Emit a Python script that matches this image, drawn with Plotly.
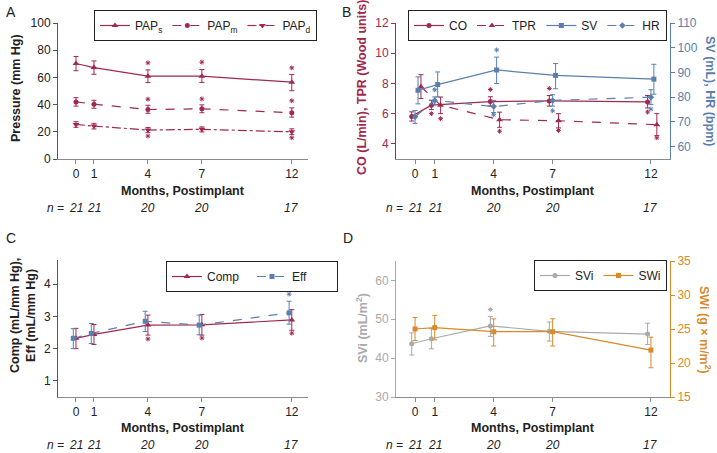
import plotly.graph_objects as go

W, H = 717, 453

# ---------------- data ----------------
months = [0, 1, 4, 7, 12]
n_labels = ["21", "21", "20", "20", "17"]

# Panel A (mm Hg)
paps = [70.2, 67.2, 60.9, 60.9, 56.5]
paps_hi = [75.4, 72.1, 65.5, 65.8, 62.2]
paps_lo = [64.9, 62.3, 56.2, 56.3, 50.2]
papm = [42.0, 40.3, 36.4, 36.9, 34.0]
papm_hi = [45.1, 43.2, 39.5, 39.8, 37.6]
papm_lo = [38.9, 37.3, 33.6, 34.0, 30.8]
papd = [25.4, 24.2, 21.3, 21.8, 20.0]
papd_hi = [27.4, 26.2, 23.2, 23.6, 22.2]
papd_lo = [23.3, 22.1, 19.4, 19.9, 17.9]
star_paps_x, star_paps_y = [4, 7, 12], [70.7, 71.2, 67.0]
star_papm_x, star_papm_y = [4, 7, 12], [44.0, 44.2, 42.8]
star_papd_x, star_papd_y = [4, 12], [16.9, 15.6]

# Panel B
co = [5.82, 6.56, 6.80, 6.84, 6.78]
co_hi = [6.12, 6.89, 7.12, 7.20, 7.20]
co_lo = [5.51, 6.27, 6.50, 6.50, 6.38]
tpr = [7.78, 6.56, 5.60, 5.53, 5.27]
tpr_hi = [8.58, 7.10, 6.10, 6.00, 6.00]
tpr_lo = [7.00, 6.00, 5.10, 5.06, 4.55]
sv = [82.8, 85.1, 91.0, 88.8, 87.3]
sv_hi = [88.2, 90.2, 96.2, 93.6, 93.3]
sv_lo = [77.3, 80.1, 85.5, 83.4, 81.2]
hr = [72.1, 78.7, 76.2, 78.7, 80.0]
hr_hi = [74.6, 80.1, 78.7, 81.0, 83.0]
hr_lo = [69.4, 77.1, 73.8, 76.4, 77.0]
star_co_x, star_co_y = [1, 4, 7, 12], [6.0, 7.6, 7.67, 6.11]
star_tpr_x, star_tpr_y = [1, 4, 7, 12], [5.67, 4.84, 4.89, 4.4]
star_sv_x, star_sv_y = [4], [99.1]
star_hr_x, star_hr_y = [1, 4, 7, 12], [83.0, 72.9, 74.5, 75.2]

# Panel C
comp = [2.32, 2.44, 2.73, 2.74, 2.89]
comp_hi = [2.63, 2.75, 3.04, 3.06, 3.21]
comp_lo = [2.00, 2.13, 2.42, 2.42, 2.57]
eff = [2.32, 2.47, 2.85, 2.73, 3.11]
eff_hi = [2.62, 2.78, 3.16, 3.04, 3.47]
eff_lo = [2.00, 2.16, 2.53, 2.43, 2.76]
star_comp_x, star_comp_y = [4, 7, 12], [2.30, 2.33, 2.48]
star_eff_x, star_eff_y = [12], [3.69]

# Panel D
svi = [43.7, 45.0, 48.3, 46.9, 46.2]
svi_hi = [46.5, 47.6, 50.7, 49.3, 49.0]
svi_lo = [40.8, 42.4, 45.6, 44.4, 43.5]
swi = [25.0, 25.2, 24.6, 24.6, 21.9]
swi_hi = [26.7, 27.0, 26.5, 26.5, 23.8]
swi_lo = [23.3, 23.4, 22.5, 22.5, 19.3]
star_svi_x, star_svi_y = [4], [52.5]

# ---------------- style ----------------
RED = "#a1284f"
BLUE = "#5a7fae"
GRAY = "#a9a9a9"
ORANGE = "#d98a2a"
AXG = "#8a8a8a"
FONT = "Liberation Sans, Arial, sans-serif"

# dodge offsets (months)
D_CO, D_TPR, D_SV, D_HR = -0.17, 0.3, 0.15, 0.0
D_COMP, D_EFF = 0.0, -0.15
D_SVI, D_SWI = -0.17, 0.0


def px_x(p):
    return p / W


def px_y(p):
    return 1 - p / H


def shift(xs, d):
    return [x + d for x in xs]


def err(vals, hi, lo, color):
    return dict(type="data", symmetric=False,
                array=[h - v for h, v in zip(hi, vals)],
                arrayminus=[v - l for v, l in zip(vals, lo)],
                color=color, thickness=1, width=2.5)


fig = go.Figure()


def series(x, y, hi, lo, name, color, dash, symbol, xa, ya, legend, msize=6):
    fig.add_trace(go.Scatter(
        x=x, y=y, name=name, mode="lines+markers",
        line=dict(color=color, width=1.2, dash=dash),
        marker=dict(color=color, symbol=symbol, size=msize),
        error_y=err(y, hi, lo, color),
        xaxis=xa, yaxis=ya, legend=legend))


def stars(x, y, color, xa, ya):
    fig.add_trace(go.Scatter(
        x=x, y=y, mode="markers", showlegend=False, hoverinfo="skip",
        marker=dict(symbol="asterisk-open", size=4, color=color,
                    line=dict(color=color, width=1)),
        xaxis=xa, yaxis=ya))


# Panel A
series(months, paps, paps_hi, paps_lo, "PAP<sub>s</sub>", RED, "solid", "triangle-up", "x", "y", "legend")
series(months, papm, papm_hi, papm_lo, "PAP<sub>m</sub>", RED, "dash", "circle", "x", "y", "legend", 5)
series(months, papd, papd_hi, papd_lo, "PAP<sub>d</sub>", RED, "dashdot", "triangle-down", "x", "y", "legend")
stars(star_paps_x, star_paps_y, RED, "x", "y")
stars(star_papm_x, star_papm_y, RED, "x", "y")
stars(star_papd_x, star_papd_y, RED, "x", "y")

# Panel B
series(shift(months, D_CO), co, co_hi, co_lo, "CO", RED, "solid", "circle", "x2", "y2", "legend2", 5)
series(shift(months, D_TPR), tpr, tpr_hi, tpr_lo, "TPR", RED, "dash", "triangle-up", "x2", "y2", "legend2")
series(shift(months, D_SV), sv, sv_hi, sv_lo, "SV", BLUE, "solid", "square", "x2", "y3", "legend2", 5)
series(shift(months, D_HR), hr, hr_hi, hr_lo, "HR", BLUE, "dash", "diamond", "x2", "y3", "legend2", 5)
stars(shift(star_co_x, D_CO), star_co_y, RED, "x2", "y2")
stars(shift(star_tpr_x, D_TPR), star_tpr_y, RED, "x2", "y2")
stars(shift(star_sv_x, D_SV), star_sv_y, BLUE, "x2", "y3")
stars(shift(star_hr_x, D_HR), star_hr_y, BLUE, "x2", "y3")

# Panel C
series(shift(months, D_COMP), comp, comp_hi, comp_lo, "Comp", RED, "solid", "triangle-up", "x3", "y4", "legend3")
series(shift(months, D_EFF), eff, eff_hi, eff_lo, "Eff", BLUE, "dash", "square", "x3", "y4", "legend3", 5)
stars(shift(star_comp_x, D_COMP), star_comp_y, RED, "x3", "y4")
stars(shift(star_eff_x, D_EFF), star_eff_y, BLUE, "x3", "y4")

# Panel D
series(shift(months, D_SVI), svi, svi_hi, svi_lo, "SVi", GRAY, "solid", "circle", "x4", "y5", "legend4", 5)
series(shift(months, D_SWI), swi, swi_hi, swi_lo, "SWi", ORANGE, "solid", "square", "x4", "y6", "legend4", 5)
stars(shift(star_svi_x, D_SVI), star_svi_y, GRAY, "x4", "y5")

# ---------------- axes ----------------
LEFT_DOM = [px_x(58), px_x(308)]
RIGHT_DOM = [px_x(396), px_x(670)]
TOP_DOM = [px_y(159), px_y(23)]
BOT_DOM = [px_y(397), px_y(260)]


def xax(domain, rng, anchor):
    return dict(domain=domain, range=rng, anchor=anchor, tickvals=months,
                ticktext=[str(m) for m in months], showline=True, linecolor=AXG,
                linewidth=1, ticks="outside", ticklen=4, tickcolor=AXG,
                showgrid=False, zeroline=False, tickfont=dict(size=12, color="#222"),
                fixedrange=True)


def yax(domain, rng, dtick, color, anchor, side="left", overlaying=None, tcolor=None):
    d = dict(domain=domain, range=rng, anchor=anchor, side=side, dtick=dtick,
             showline=True, linecolor=color, linewidth=1, ticks="outside",
             ticklen=4, tickcolor=color, showgrid=False, zeroline=False,
             tickfont=dict(size=12, color=tcolor or color), fixedrange=True)
    if overlaying:
        d["overlaying"] = overlaying
    return d


fig.update_layout(
    xaxis=xax(LEFT_DOM, [-1.0, 12.9], "y"),
    yaxis=yax(TOP_DOM, [0, 100], 20, "#555", "x", tcolor="#222"),
    xaxis2=xax(RIGHT_DOM, [-0.97, 12.97], "y2"),
    yaxis2=yax(TOP_DOM, [3, 12], 2, RED, "x2"),
    yaxis3=dict(yax(TOP_DOM, [55, 110], 10, BLUE, "x2", side="right", overlaying="y2"),
                tickvals=[60, 70, 80, 90, 100, 110]),
    xaxis3=xax(LEFT_DOM, [-1.0, 12.9], "y4"),
    yaxis4=dict(yax(BOT_DOM, [0.5, 4.75], 1, "#555", "x3", tcolor="#222"),
                tickvals=[1, 2, 3, 4]),
    xaxis4=xax(RIGHT_DOM, [-0.97, 12.97], "y5"),
    yaxis5=yax([px_y(397), px_y(261)], [30, 65], 10, GRAY, "x4"),
    yaxis6=dict(yax([px_y(397), px_y(261)], [15, 35], 5, ORANGE, "x4", side="right", overlaying="y5")),
)


def leg(x, y, ew=None):
    d = dict(x=px_x(x), y=px_y(y), xanchor="left", yanchor="top",
             orientation="h", bordercolor="#222", borderwidth=1,
             bgcolor="white", font=dict(size=12, color="#222"),
             itemwidth=30, tracegroupgap=0)
    if ew:
        d["entrywidth"] = ew
        d["entrywidthmode"] = "pixels"
    return d


fig.update_layout(
    legend=leg(94, 10),
    legend2=leg(408, 10),
    legend3=leg(166, 261, 40),
    legend4=leg(534, 260),
)

# ---------------- annotations ----------------
ann = []


def text(x, y, s, size=12, color="#222", bold=False, italic=False, angle=0,
         xanchor="center", xref="paper"):
    if bold:
        s = "<b>" + s + "</b>"
    if italic:
        s = "<i>" + s + "</i>"
    ann.append(dict(x=x, y=px_y(y), xref=xref, yref="paper", text=s,
                    showarrow=False, textangle=angle, xanchor=xanchor,
                    yanchor="middle", font=dict(size=size, color=color, family=FONT)))


# panel letters
text(px_x(11), 12, "A", size=14, xanchor="center")
text(px_x(346), 12, "B", size=14, xanchor="center")
text(px_x(11), 238, "C", size=14, xanchor="center")
text(px_x(348), 238, "D", size=14, xanchor="center")

# x titles
for cx, cy in [(183, 191), (533, 191), (183, 428), (533, 428)]:
    text(px_x(cx), cy, "Months, Postimplant", size=12.5, bold=True)

# n rows
for xa, nx, cy in [("x", 66, 208), ("x2", 405, 208), ("x3", 66, 445), ("x4", 405, 445)]:
    text(px_x(nx), cy, "n =", italic=True, xanchor="right")
    for m, lab in zip(months, n_labels):
        text(m, cy, lab, italic=True, xref=xa)

# y titles
text(px_x(16), 88, "Pressure (mm Hg)", size=12.5, bold=True, angle=-90)
text(px_x(362), 88, "CO (L/min), TPR (Wood units)", size=12.5, bold=True, color=RED, angle=-90)
text(px_x(710), 91, "SV (mL), HR (bpm)", size=12.5, bold=True, color=BLUE, angle=90)
text(px_x(23), 316, "Comp (mL/mm Hg),<br>Eff (mL/mm Hg)", size=12.5, bold=True, angle=-90)
text(px_x(362), 328, "SVi (mL/m<sup>2</sup>)", size=12.5, bold=True, color=GRAY, angle=-90)
text(px_x(705), 330, "SWi (g × m/m<sup>2</sup>)", size=12.5, bold=True, color=ORANGE, angle=90)

fig.update_layout(
    annotations=ann,
    width=W, height=H,
    margin=dict(l=0, r=0, t=0, b=0, pad=0),
    paper_bgcolor="white", plot_bgcolor="white",
    font=dict(family=FONT, size=12, color="#222"),
    template="none",
    showlegend=True,
)

fig.write_html("out.html", config={"displayModeBar": False},
               post_script="document.body.style.margin='0';document.body.style.overflow='hidden';")
